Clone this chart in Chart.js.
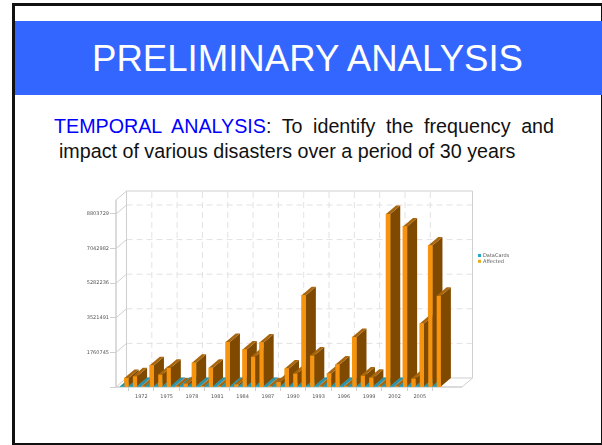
<!DOCTYPE html>
<html>
<head>
<meta charset="utf-8">
<title>Preliminary Analysis</title>
<script src="https://cdn.jsdelivr.net/npm/chart.js@4/dist/chart.umd.min.js"></script>
<style>
  html, body { margin: 0; padding: 0; background: #fff; overflow: hidden; }
  body { width: 602px; height: 445px; position: relative; font-family: "Liberation Sans", Arial, sans-serif; }
  #frame { position: absolute; left: 12px; top: 3px; width: 586px; height: 437px; border: 3px solid #111; border-bottom-width: 2px; }
  #band { position: absolute; left: 15px; top: 21px; width: 587px; height: 74px; background: #3366ff; color: #fff;
          font-size: 36.6px; line-height: 75px; text-align: center; text-indent: -2px; }
  .line { position: absolute; font-size: 19.7px; line-height: 24px; color: #111; white-space: nowrap; }
  #line1 { left: 54px; top: 114px; width: 500px; white-space: normal; text-align: justify; text-align-last: justify; }
  #line2 { left: 59px; top: 139px; }
  #line1 span { color: #0000ff; }
  #chart { position: absolute; left: 0; top: 0; }
</style>
</head>
<body>
<div id="frame"></div>
<div id="band">PRELIMINARY ANALYSIS</div>
<div class="line" id="line1"><span>TEMPORAL ANALYSIS</span>: To identify the frequency and</div>
<div class="line" id="line2">impact of various disasters over a period of 30 years</div>
<canvas id="chart" width="602" height="445"></canvas>

<script>
const years = [];
for (let y = 1969; y <= 2010; y++) years.push(String(y));

const tickYears = ["1972", "1975", "1978", "1981", "1984", "1987", "1990", "1993", "1996", "1999", "2002", "2005"];
const tickValues = [0, 1760745, 3521491, 5282236, 7042982, 8803729];

const dataCards = [
  null, 2000, 2000, 2000, 2000, 2000, 2000, 2000, 2000, 2000, 2000, 2000, 2000, 2000,
  2000, 2000, 2000, 2000, 2000, 2000, 2000, 2000, 2000, 2000, 2000, 2000, 2000, 2000,
  2000, 2000, 2000, 2000, 2000, 2000, 2000, 2000, 2000, 2000, 2000, null, null, null
];

const affected = [
  null, 461000, 547000, 0, 1110000, 632000, 974000, 0, 170000, 1230000, 0, 974000, 0, 2290000,
  130000, 1910000, 1540000, 2260000, 0, 256000, 940000, 684000, 4670000, 1600000, 0, 684000, 1140000, 0,
  2540000, 580000, 477000, 0, 8800000, 0, 8170000, 427000, 3230000, 7200000, 4640000, null, null, null
];

const depthX = 10;
const depthY = 8.5;
const wallX = 10.5;
const wallY = 9;
const gridColor = "#e2e2e2";
const wallColor = "#cfcfcf";
const shades = {
  DataCards: { side: "#14606f", top: "#2a93a8" },
  Affected: { side: "#7f4a00", top: "#a9650c" }
};

function line(ctx, x1, y1, x2, y2) {
  ctx.beginPath();
  ctx.moveTo(x1, y1);
  ctx.lineTo(x2, y2);
  ctx.stroke();
}

function poly(ctx, pts, color) {
  ctx.fillStyle = color;
  ctx.beginPath();
  pts.forEach((p, i) => (i ? ctx.lineTo(p[0], p[1]) : ctx.moveTo(p[0], p[1])));
  ctx.closePath();
  ctx.fill();
}

// Back wall, side wall and floor, laid out from the scales
const walls = {
  id: "walls",
  beforeDatasetsDraw(chart) {
    const { ctx, scales: { x, y }, chartArea: a } = chart;
    const left = a.left, right = a.right, base = y.getPixelForValue(0), top = a.top;

    ctx.save();
    ctx.lineWidth = 1;

    ctx.strokeStyle = gridColor;
    ctx.setLineDash([6, 4]);
    tickValues.slice(1).forEach(v => {
      const py = y.getPixelForValue(v) - wallY;
      line(ctx, left + wallX, py, right + wallX, py);
    });
    tickYears.forEach(label => {
      const px = x.getPixelForValue(years.indexOf(label)) + wallX;
      line(ctx, px, base - wallY, px, top - wallY);
    });
    ctx.setLineDash([]);

    ctx.strokeStyle = wallColor;
    tickValues.forEach(v => {
      const py = y.getPixelForValue(v);
      line(ctx, left, py, left + wallX, py - wallY);
    });
    line(ctx, left + wallX, top - wallY, right + wallX, top - wallY);
    line(ctx, right + wallX, top - wallY, right + wallX, base - wallY);
    line(ctx, left + wallX, base - wallY, right + wallX, base - wallY);
    line(ctx, right, base, right + wallX, base - wallY);
    line(ctx, left + wallX, top - wallY, left + wallX, base - wallY);
    line(ctx, left, top, left + wallX, top - wallY);
    ctx.lineWidth = 1.5;
    line(ctx, left, top, left, base);
    line(ctx, left, base, right, base);
    ctx.restore();
  }
};

// Extrudes each bar, column by column so nearer faces overlap properly
const extrude = {
  id: "extrude",
  afterDatasetsDraw(chart) {
    const { ctx, data: { datasets } } = chart;
    ctx.save();
    years.forEach((year, i) => {
      datasets.forEach((ds, d) => {
        if (ds.data[i] === null) return;
        const bar = chart.getDatasetMeta(d).data[i];
        const l = bar.x - bar.width / 2;
        const r = bar.x + bar.width / 2;
        const t = Math.min(bar.y, bar.base - 0.5);
        const b = bar.base;
        const shade = shades[ds.label];
        poly(ctx, [[r, t], [r + depthX, t - depthY], [r + depthX, b - depthY], [r, b]], shade.side);
        poly(ctx, [[l, t], [l + depthX, t - depthY], [r + depthX, t - depthY], [r, t]], shade.top);
        ctx.fillStyle = ds.backgroundColor;
        ctx.fillRect(l, t, r - l, b - t);
      });
    });
    ctx.restore();
  }
};

// Small key to the right of the plot
const sideLegend = {
  id: "sideLegend",
  afterDraw(chart) {
    const { ctx, data: { datasets } } = chart;
    ctx.save();
    ctx.font = '5px "DejaVu Sans"';
    ctx.textBaseline = "middle";
    datasets.forEach((ds, i) => {
      const py = 255.5 + i * 5.8;
      ctx.fillStyle = ds.legendColor;
      ctx.fillRect(478, py - 1.5, 3, 3);
      ctx.fillStyle = "#555";
      ctx.fillText(ds.label, 483, py);
    });
    ctx.restore();
  }
};

new Chart(document.getElementById("chart"), {
  type: "bar",
  data: {
    labels: years,
    datasets: [
      { label: "DataCards", data: dataCards, backgroundColor: "#2aa3bd", legendColor: "#22a7d0" },
      { label: "Affected", data: affected, backgroundColor: "#f7940f", legendColor: "#e6a91e" }
    ]
  },
  options: {
    responsive: false,
    animation: false,
    layout: { padding: { left: 0, top: 200, right: 140, bottom: 0 } },
    plugins: { legend: { display: false }, tooltip: { enabled: false } },
    datasets: { bar: { barThickness: 4.2 } },
    scales: {
      x: {
        offset: false,
        grid: { display: true, drawOnChartArea: false, color: wallColor, tickLength: 4 },
        border: { display: false },
        ticks: {
          autoSkip: false,
          maxRotation: 0,
          padding: 3,
          color: "#555",
          font: { family: "DejaVu Sans", size: 5 },
          callback(value) {
            const label = this.getLabelForValue(value);
            return tickYears.includes(label) ? label : "";
          }
        },
        afterTickToLabelConversion(scale) {
          scale.ticks = scale.ticks.filter(t => t.label !== "");
        },
        afterFit(scale) { scale.height = 58; }
      },
      y: {
        min: 0,
        max: 9516000,
        grid: { display: true, drawOnChartArea: false, color: wallColor, tickLength: 6 },
        border: { display: false },
        afterBuildTicks(scale) {
          scale.ticks = tickValues.map(value => ({ value }));
        },
        ticks: {
          padding: 1,
          color: "#555",
          font: { family: "DejaVu Sans", size: 5 },
          callback: value => (value === 0 ? "" : String(value))
        },
        afterFit(scale) { scale.width = 116; }
      }
    }
  },
  plugins: [walls, extrude, sideLegend]
});
</script>
</body>
</html>
